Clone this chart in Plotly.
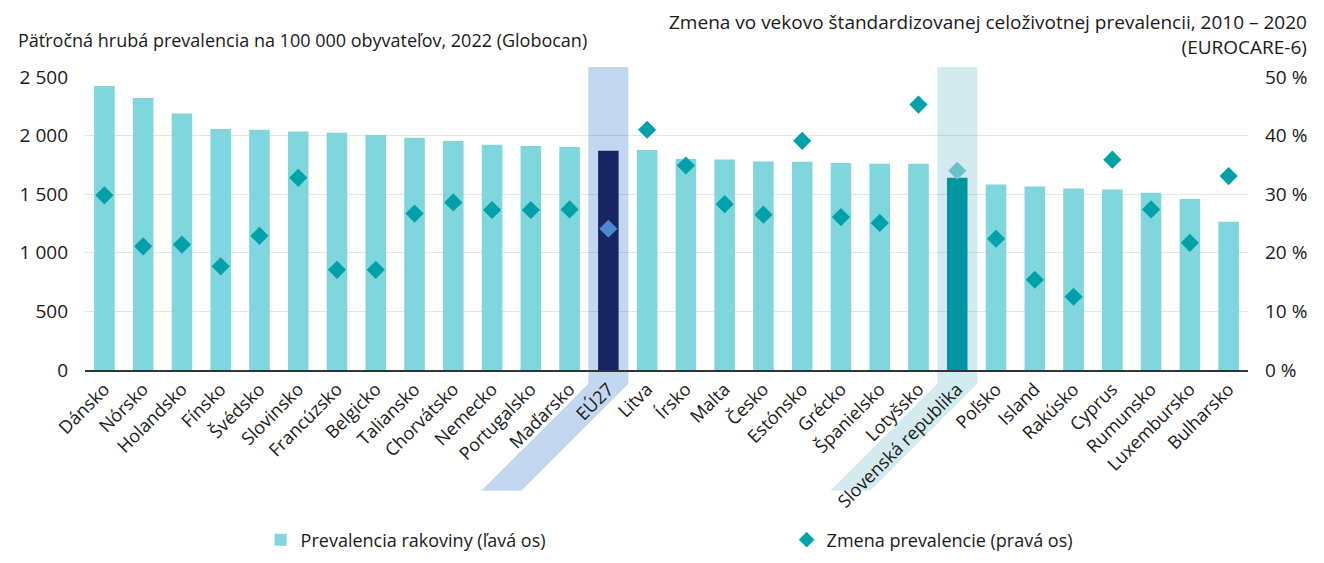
import plotly.graph_objects as go

# Data
countries = [
    "Dánsko", "Nórsko", "Holandsko", "Fínsko", "Švédsko", "Slovinsko",
    "Francúzsko", "Belgicko", "Taliansko", "Chorvátsko", "Nemecko",
    "Portugalsko", "Maďarsko", "EÚ27", "Litva", "Írsko", "Malta", "Česko",
    "Estónsko", "Grécko", "Španielsko", "Lotyšsko", "Slovenská republika",
    "Poľsko", "Island", "Rakúsko", "Cyprus", "Rumunsko", "Luxembursko",
    "Bulharsko",
]
prevalence = [
    2423, 2320, 2189, 2056, 2050, 2036, 2024, 2005, 1982, 1954, 1922,
    1911, 1902, 1871, 1877, 1800, 1797, 1780, 1777, 1766, 1760, 1760,
    1640, 1583, 1566, 1549, 1541, 1512, 1459, 1265,
]
change_pct = [
    29.8, 21.1, 21.4, 17.7, 22.9, 32.8, 17.1, 17.1, 26.7, 28.6, 27.3,
    27.3, 27.4, 24.1, 41.0, 34.9, 28.3, 26.5, 39.1, 26.1, 25.1, 45.3,
    34.0, 22.4, 15.4, 12.5, 35.9, 27.4, 21.7, 33.1,
]

left_title = "Päťročná hrubá prevalencia na 100 000 obyvateľov, 2022 (Globocan)"
right_title = "Zmena vo vekovo štandardizovanej celoživotnej prevalencii, 2010 – 2020<br>(EUROCARE-6)"

# colours
bar_col = "#7FD6DC"
eu_bar = "#172662"
sk_bar = "#0096A0"
dia_col = "#00A1A8"
eu_dia = "#4A89CE"
sk_dia = "#67C2C9"

eu_idx = countries.index("EÚ27")
sk_idx = countries.index("Slovenská republika")

bar_colors = [bar_col] * len(countries)
bar_colors[eu_idx] = eu_bar
bar_colors[sk_idx] = sk_bar
dia_colors = [dia_col] * len(countries)
dia_colors[eu_idx] = eu_dia
dia_colors[sk_idx] = sk_dia

font = "Open Sans, Noto Sans, sans-serif"
fig = go.Figure()

fig.add_trace(
    go.Bar(
        x=countries,
        y=prevalence,
        name="Prevalencia rakoviny (ľavá os)",
        marker=dict(color=bar_colors, line=dict(width=0)),
    )
)
fig.add_trace(
    go.Scatter(
        x=countries,
        y=change_pct,
        yaxis="y2",
        mode="markers",
        name="Zmena prevalencie (pravá os)",
        marker=dict(symbol="diamond", size=14, color=dia_colors),
    )
)


# highlight band behind a category, running down along its rotated label
def band(idx, color):
    half = 0.516
    top = 1.034
    knee = -0.047
    foot = -0.412
    shift = 2.76
    a, b = idx - half, idx + half
    path = (
        f"M {a},{top} L {b},{top} L {b},{knee} "
        f"L {b - shift},{foot} L {a - shift},{foot} L {a},{knee} Z"
    )
    return dict(
        type="path", path=path, xref="x", yref="paper",
        fillcolor=color, line=dict(width=0), layer="below",
    )


# page body has an 8px margin, so the figure is sized to fit inside it
fig.update_layout(
    shapes=[band(eu_idx, "#C3D7F0"), band(sk_idx, "#D3EBEF")],
    width=1308,
    height=547,
    margin=dict(l=77, r=68, t=69, b=185, autoexpand=False),
    paper_bgcolor="white",
    plot_bgcolor="rgba(0,0,0,0)",
    separators=", ",
    font=dict(family=font, size=18, color="#1a1a1a"),
    bargap=0.47,
    showlegend=True,
    legend=dict(
        orientation="h",
        x=0.151,
        xanchor="left",
        y=-0.58,
        yanchor="middle",
        entrywidth=481,
        itemsizing="constant",
        font=dict(size=18),
    ),
    xaxis=dict(
        tickangle=-45,
        showline=True,
        linecolor="#333333",
        linewidth=1.5,
        showgrid=False,
        ticks="",
        range=[-0.5, len(countries) - 0.5],
    ),
    yaxis=dict(
        range=[0, 2500],
        dtick=500,
        tickformat=",",
        gridcolor="rgba(0,0,0,0.1)",
        gridwidth=1,
        zeroline=False,
        ticklabelstandoff=16,
        tickfont=dict(size=19),
    ),
    yaxis2=dict(
        range=[0, 50],
        dtick=10,
        ticksuffix=" %",
        overlaying="y",
        side="right",
        showgrid=False,
        zeroline=False,
        ticklabelstandoff=16,
        tickfont=dict(size=19),
    ),
    annotations=[
        dict(
            text=left_title, xref="paper", yref="paper",
            x=-0.059, y=1.126, xanchor="left", yanchor="middle",
            showarrow=False, font=dict(size=18),
        ),
        dict(
            text=right_title, xref="paper", yref="paper",
            x=1.0524, y=1.145, xanchor="right", yanchor="middle",
            align="right", showarrow=False, font=dict(size=19),
        ),
    ],
)

fig.write_html("out.html")
